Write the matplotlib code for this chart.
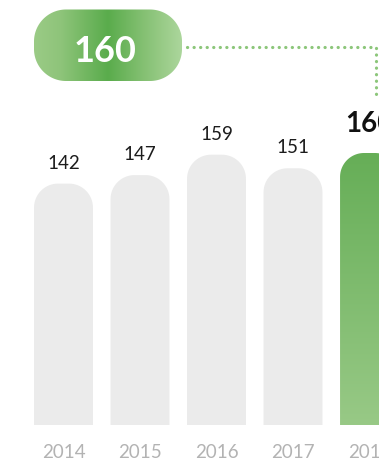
import numpy as np
import matplotlib
matplotlib.use("Agg")
import matplotlib.pyplot as plt
from matplotlib.patches import PathPatch
from matplotlib.path import Path
from matplotlib.colors import LinearSegmentedColormap

years = ["2014", "2015", "2016", "2017", "2018"]
values = [142, 147, 159, 151, 160]

plt.rcParams['font.family'] = ['Lato', 'DejaVu Sans']

W, H = 379, 462
fig = plt.figure(figsize=(W / 100, H / 100), dpi=100)
ax = fig.add_axes([0, 0, 1, 1])

# pixel geometry of the bar area
px_x = 76.5      # pixels per category step
px_y = 1.7       # pixels per unit of value
base_px = 425    # baseline, pixels from top
first_px = 63.5  # centre of first bar, pixels from left
ax.set_xlim(-first_px / px_x, (W - first_px) / px_x)
ax.set_ylim(-(H - base_px) / px_y, base_px / px_y)
ax.axis('off')


def arc(cx, cy, rx, ry, a0, a1, n=40):
    t = np.linspace(a0, a1, n)
    return np.column_stack([cx + rx * np.cos(t), cy + ry * np.sin(t)])


def closed(verts):
    verts = np.vstack([verts, verts[:1]])
    codes = [Path.MOVETO] + [Path.LINETO] * (len(verts) - 2) + [Path.CLOSEPOLY]
    return Path(verts, codes)


def rounded_top(x0, x1, y0, y1, rx, ry):
    left = arc(x0 + rx, y1 - ry, rx, ry, np.pi, np.pi / 2)
    right = arc(x1 - rx, y1 - ry, rx, ry, np.pi / 2, 0)
    return closed(np.vstack([[[x0, y0]], left, right, [[x1, y0]]]))


def rounded_box(x0, x1, y0, y1, r):
    # y axis points downwards in the overlay (pixel coordinates)
    tl = arc(x0 + r, y0 + r, r, r, -np.pi, -np.pi / 2)
    tr = arc(x1 - r, y0 + r, r, r, -np.pi / 2, 0)
    br = arc(x1 - r, y1 - r, r, r, 0, np.pi / 2)
    bl = arc(x0 + r, y1 - r, r, r, np.pi / 2, np.pi)
    return closed(np.vstack([tl, tr, br, bl]))


x = np.arange(len(years))
bars = ax.bar(x, values, width=0.77, color='#ebebeb')
r_px = 24
rx, ry = r_px / px_x, r_px / px_y
green_bar = LinearSegmentedColormap.from_list(
    'gbar', [(0.0, '#98c986'), (1.0, '#66ae57')])

for i, rect in enumerate(bars):
    x0, w, h = rect.get_x(), rect.get_width(), rect.get_height()
    rect.remove()
    path = rounded_top(x0, x0 + w, 0, h, rx, ry)
    last = i == len(bars) - 1
    patch = PathPatch(path, facecolor='#ebebeb' if not last else 'none',
                      edgecolor='none', zorder=2)
    ax.add_patch(patch)
    if last:
        grad = np.linspace(0, 1, 256).reshape(-1, 1)
        im = ax.imshow(grad, cmap=green_bar, aspect='auto', origin='lower',
                       extent=(x0, x0 + w, 0, h), zorder=2)
        im.set_clip_path(patch)
        ax.text(i, h + 21 / px_y, str(values[i]), ha='center', va='baseline',
                fontsize=20, fontweight='bold', color='#111111', zorder=4)
    else:
        ax.text(i, h + 15 / px_y, str(values[i]), ha='center', va='baseline',
                fontsize=13.5, color='#1c1c1c', zorder=4)
    ax.text(i, -(458.5 - base_px) / px_y, years[i], ha='center', va='baseline',
            fontsize=13.5, color='#b3b3b3', zorder=4)

ax.set_xlim(-first_px / px_x, (W - first_px) / px_x)
ax.set_ylim(-(H - base_px) / px_y, base_px / px_y)

# overlay in pixel coordinates for the headline badge
ov = fig.add_axes([0, 0, 1, 1], zorder=3)
ov.set_xlim(0, W)
ov.set_ylim(H, 0)
ov.axis('off')
ov.patch.set_alpha(0)

pill = PathPatch(rounded_box(34, 182, 9.5, 81, 32), facecolor='none',
                 edgecolor='none')
ov.add_patch(pill)
green_pill = LinearSegmentedColormap.from_list(
    'gpill', [(0.0, '#9bcb86'), (0.18, '#8ec47a'), (0.5, '#5aac4c'),
              (0.75, '#86c174'), (1.0, '#acd69c')])
hg = np.linspace(0, 1, 256).reshape(1, -1)
pim = ov.imshow(hg, cmap=green_pill, aspect='auto', extent=(34, 182, 81, 9.5))
pim.set_clip_path(pill)
ov.set_xlim(0, W)
ov.set_ylim(H, 0)
ov.text(105, 62, str(values[-1]), ha='center', va='baseline', fontsize=26,
        fontweight='bold', color='white')

ov.plot([187, 376, 376], [47, 47, 95], color='#8cc67a', lw=2.3,
        linestyle=(0, (0.05, 2.0)), dash_capstyle='round')

fig.savefig('out.png', dpi=100)
